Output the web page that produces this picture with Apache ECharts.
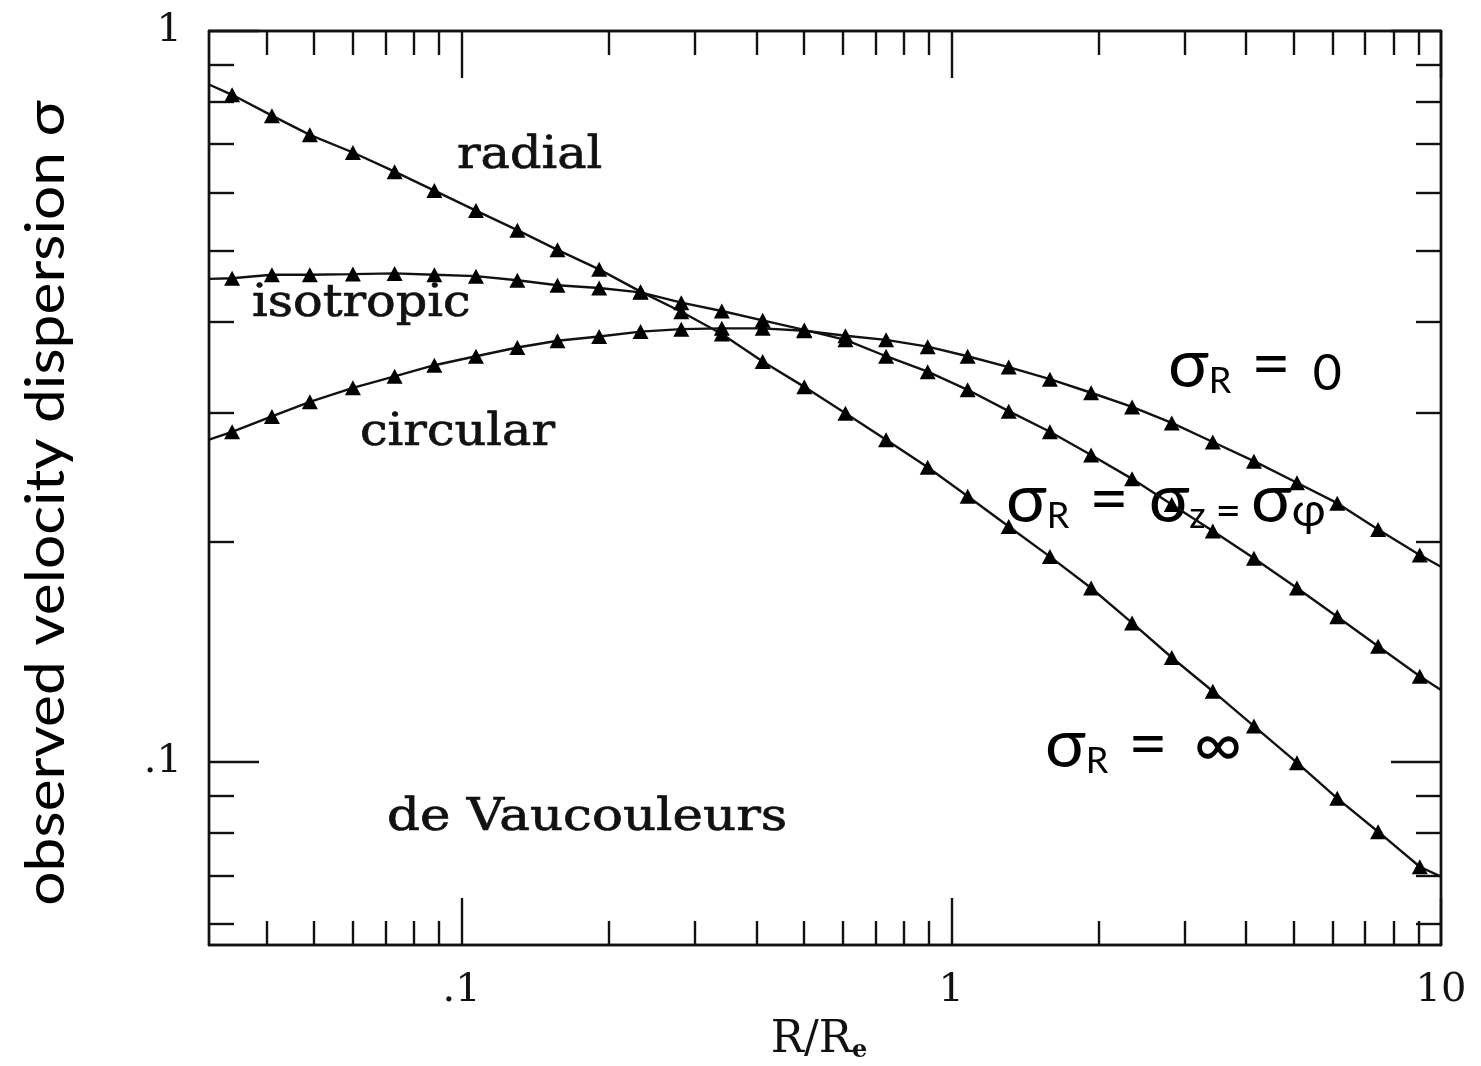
<!DOCTYPE html>
<html>
<head>
<meta charset="utf-8">
<script src="https://cdn.jsdelivr.net/npm/echarts@6/dist/echarts.min.js"></script>
<style>
html, body { margin: 0; padding: 0; background: #fff; }
#chart { width: 1481px; height: 1066px; }
</style>
</head>
<body>
<div id="chart"></div>
<script>
// Projected radius R/Re of each model point; the first and last entries are the plot edges.
const radius = [0.0305, 0.034, 0.041, 0.049, 0.060, 0.073, 0.088, 0.107, 0.130, 0.157, 0.191,
  0.232, 0.281, 0.340, 0.412, 0.501, 0.608, 0.736, 0.895, 1.08, 1.31,
  1.59, 1.93, 2.34, 2.82, 3.42, 4.15, 5.08, 6.14, 7.44, 9.05, 10];

// Observed velocity dispersion for the three orbit models (same points as radius).
const sigmaRadial = [0.845, 0.818, 0.766, 0.721, 0.682, 0.642, 0.605, 0.568, 0.534, 0.502, 0.472,
  0.440, 0.413, 0.385, 0.353, 0.326, 0.300, 0.276, 0.253, 0.231, 0.210,
  0.191, 0.173, 0.155, 0.139, 0.125, 0.112, 0.0998, 0.0892, 0.0803, 0.0719, 0.0697];
const sigmaIsotropic = [0.458, 0.459, 0.464, 0.464, 0.465, 0.466, 0.464, 0.462, 0.456, 0.449, 0.445,
  0.439, 0.425, 0.414, 0.402, 0.390, 0.378, 0.359, 0.342, 0.323, 0.302,
  0.283, 0.263, 0.244, 0.225, 0.207, 0.190, 0.173, 0.158, 0.144, 0.131, 0.1255];
const sigmaCircular = [0.276, 0.283, 0.297, 0.311, 0.325, 0.337, 0.349, 0.359, 0.369, 0.377, 0.382,
  0.388, 0.391, 0.392, 0.392, 0.389, 0.383, 0.378, 0.370, 0.359, 0.347,
  0.334, 0.320, 0.306, 0.291, 0.274, 0.258, 0.241, 0.226, 0.208, 0.192, 0.185];

// Axis ranges and ticks (logarithmic in both directions).
const xRange = [0.0305, 10];
const yRange = [0.0562, 1];
const xMajorTicks = [0.1, 1, 10];
const xMajorLabels = ['.1', '1', '10'];
const xMinorTicks = [0.04, 0.05, 0.06, 0.07, 0.08, 0.09, 0.2, 0.3, 0.4, 0.5, 0.6, 0.7, 0.8, 0.9,
  2, 3, 4, 5, 6, 7, 8, 9];
const yMajorTicks = [0.1, 1];
const yMajorLabels = ['.1', '1'];
const yMinorTicks = [0.06, 0.07, 0.08, 0.09, 0.2, 0.3, 0.4, 0.5, 0.6, 0.7, 0.8, 0.9];

const lg = Math.log10;
const INK = '#111';
const SERIF = '"DejaVu Serif", "Liberation Serif", serif';
const SANS = 'Lato, "Noto Sans", sans-serif';

function labelFor(ticks, labels) {
  return function (v) {
    const i = ticks.findIndex(t => Math.abs(lg(t) - v) < 1e-6);
    return i >= 0 ? labels[i] : '';
  };
}

function axis(kind, position, ticks, tickLen, label) {
  const range = kind === 'x' ? xRange : yRange;
  return {
    type: 'value',
    position: position,
    min: lg(range[0]),
    max: lg(range[1]),
    axisLine: { show: true, onZero: false, lineStyle: { color: INK, width: 2.4 } },
    axisTick: {
      show: true, inside: true, length: tickLen,
      customValues: ticks.map(lg),
      lineStyle: { color: INK, width: 2.4 }
    },
    axisLabel: label || { show: false },
    splitLine: { show: false },
    silent: true
  };
}

const xLabel = {
  show: true,
  customValues: xMajorTicks.map(lg),
  formatter: labelFor(xMajorTicks, xMajorLabels),
  fontFamily: SERIF, fontSize: 40, color: INK, margin: 26
};
const yLabel = {
  show: true,
  customValues: yMajorTicks.map(lg),
  formatter: labelFor(yMajorTicks, yMajorLabels),
  fontFamily: SERIF, fontSize: 40, color: INK, margin: 27
};

const xBottom = axis('x', 'bottom', xMajorTicks, 47, xLabel);
xBottom.name = '{a|R/R}{b|e}';
xBottom.nameLocation = 'middle';
xBottom.nameGap = 72;
xBottom.nameTextStyle = {
  color: INK,
  padding: [0, 12, 0, 0],
  rich: {
    a: { fontFamily: SERIF, fontSize: 44, color: INK, lineHeight: 46, verticalAlign: 'bottom' },
    b: { fontFamily: SERIF, fontSize: 24, fontWeight: 'bold', color: INK, lineHeight: 18, verticalAlign: 'bottom' }
  }
};

function points(values) {
  return radius.map((r, i) => {
    const item = { value: [lg(r), lg(values[i])] };
    if (i === 0 || i === radius.length - 1) item.symbol = 'none';
    return item;
  });
}

function curve(name, values) {
  return {
    name: name,
    type: 'line',
    xAxisIndex: 0,
    yAxisIndex: 0,
    data: points(values),
    symbol: 'triangle',
    symbolSize: [16, 15],
    itemStyle: { color: '#000' },
    lineStyle: { color: INK, width: 2.4 },
    emphasis: { disabled: true },
    animation: false
  };
}

const serifFont = '44px ' + SERIF;
function serifText(text, x, y, sx) {
  return {
    type: 'text', x: x, y: y, scaleX: sx, silent: true,
    style: {
      text: text, font: serifFont, fill: INK, stroke: INK, lineWidth: 0.7,
      align: 'left', verticalAlign: 'middle'
    }
  };
}

const sigmaRich = {
  g: { fontFamily: SANS, fontSize: 68, color: '#000', lineHeight: 60, verticalAlign: 'bottom' },
  G: { fontFamily: SANS, fontSize: 68, color: '#000', lineHeight: 60, verticalAlign: 'bottom', padding: [0, 0, 0, 20] },
  s: { fontFamily: SANS, fontSize: 36, color: '#000', lineHeight: 24, verticalAlign: 'bottom' },
  p: { fontFamily: SANS, fontSize: 46, color: '#000', lineHeight: 34, verticalAlign: 'bottom' },
  q: { fontFamily: SANS, fontSize: 44, color: '#000', lineHeight: 24, verticalAlign: 'bottom', padding: [0, 10, 0, 10] },
  e: { fontFamily: SANS, fontSize: 68, color: '#000', lineHeight: 56, verticalAlign: 'bottom', padding: [0, 0, 0, 20] },
  t: { fontFamily: SANS, fontSize: 50, color: '#000', lineHeight: 52, verticalAlign: 'bottom', padding: [0, 0, 0, 22] },
  i: { fontFamily: SANS, fontSize: 66, color: '#000', lineHeight: 58, verticalAlign: 'bottom', padding: [0, 0, 0, 26] }
};
function sigmaText(text, x, y) {
  return {
    type: 'text', x: x, y: y, silent: true,
    style: { text: text, rich: sigmaRich, fill: '#000', align: 'left', verticalAlign: 'bottom' }
  };
}

const chart = echarts.init(document.getElementById('chart'), null, { renderer: 'canvas' });
chart.setOption({
  backgroundColor: '#fff',
  animation: false,
  grid: { left: 209, right: 40, top: 31, bottom: 121, containLabel: false, outerBoundsMode: 'none' },
  xAxis: [
    xBottom,
    axis('x', 'bottom', xMinorTicks, 24),
    axis('x', 'top', xMajorTicks, 47),
    axis('x', 'top', xMinorTicks, 24)
  ],
  yAxis: [
    axis('y', 'left', yMajorTicks, 50, yLabel),
    axis('y', 'left', yMinorTicks, 25),
    axis('y', 'right', yMajorTicks, 50),
    axis('y', 'right', yMinorTicks, 25)
  ],
  series: [
    curve('radial', sigmaRadial),
    curve('isotropic', sigmaIsotropic),
    curve('circular', sigmaCircular)
  ],
  graphic: [
    {
      type: 'text', x: 46, y: 503, rotation: Math.PI / 2, scaleX: 1.1, silent: true,
      style: {
        text: 'observed velocity dispersion σ', font: '55px ' + SANS, fill: '#000',
        align: 'center', verticalAlign: 'middle'
      }
    },
    serifText('radial', 457, 157, 1.12),
    serifText('isotropic', 252, 305, 1.12),
    serifText('circular', 360, 434, 1.12),
    serifText('de Vaucouleurs', 387, 819, 1.17),
    sigmaText('{g|σ}{s|R}{e|=}{t|0}', 1168, 399),
    sigmaText('{g|σ}{s|R}{e|=}{G|σ}{s|z}{q|=}{g|σ}{p|φ}', 1006, 534),
    sigmaText('{g|σ}{s|R}{e|=}{i|∞}', 1045, 779)
  ]
});
</script>
</body>
</html>
